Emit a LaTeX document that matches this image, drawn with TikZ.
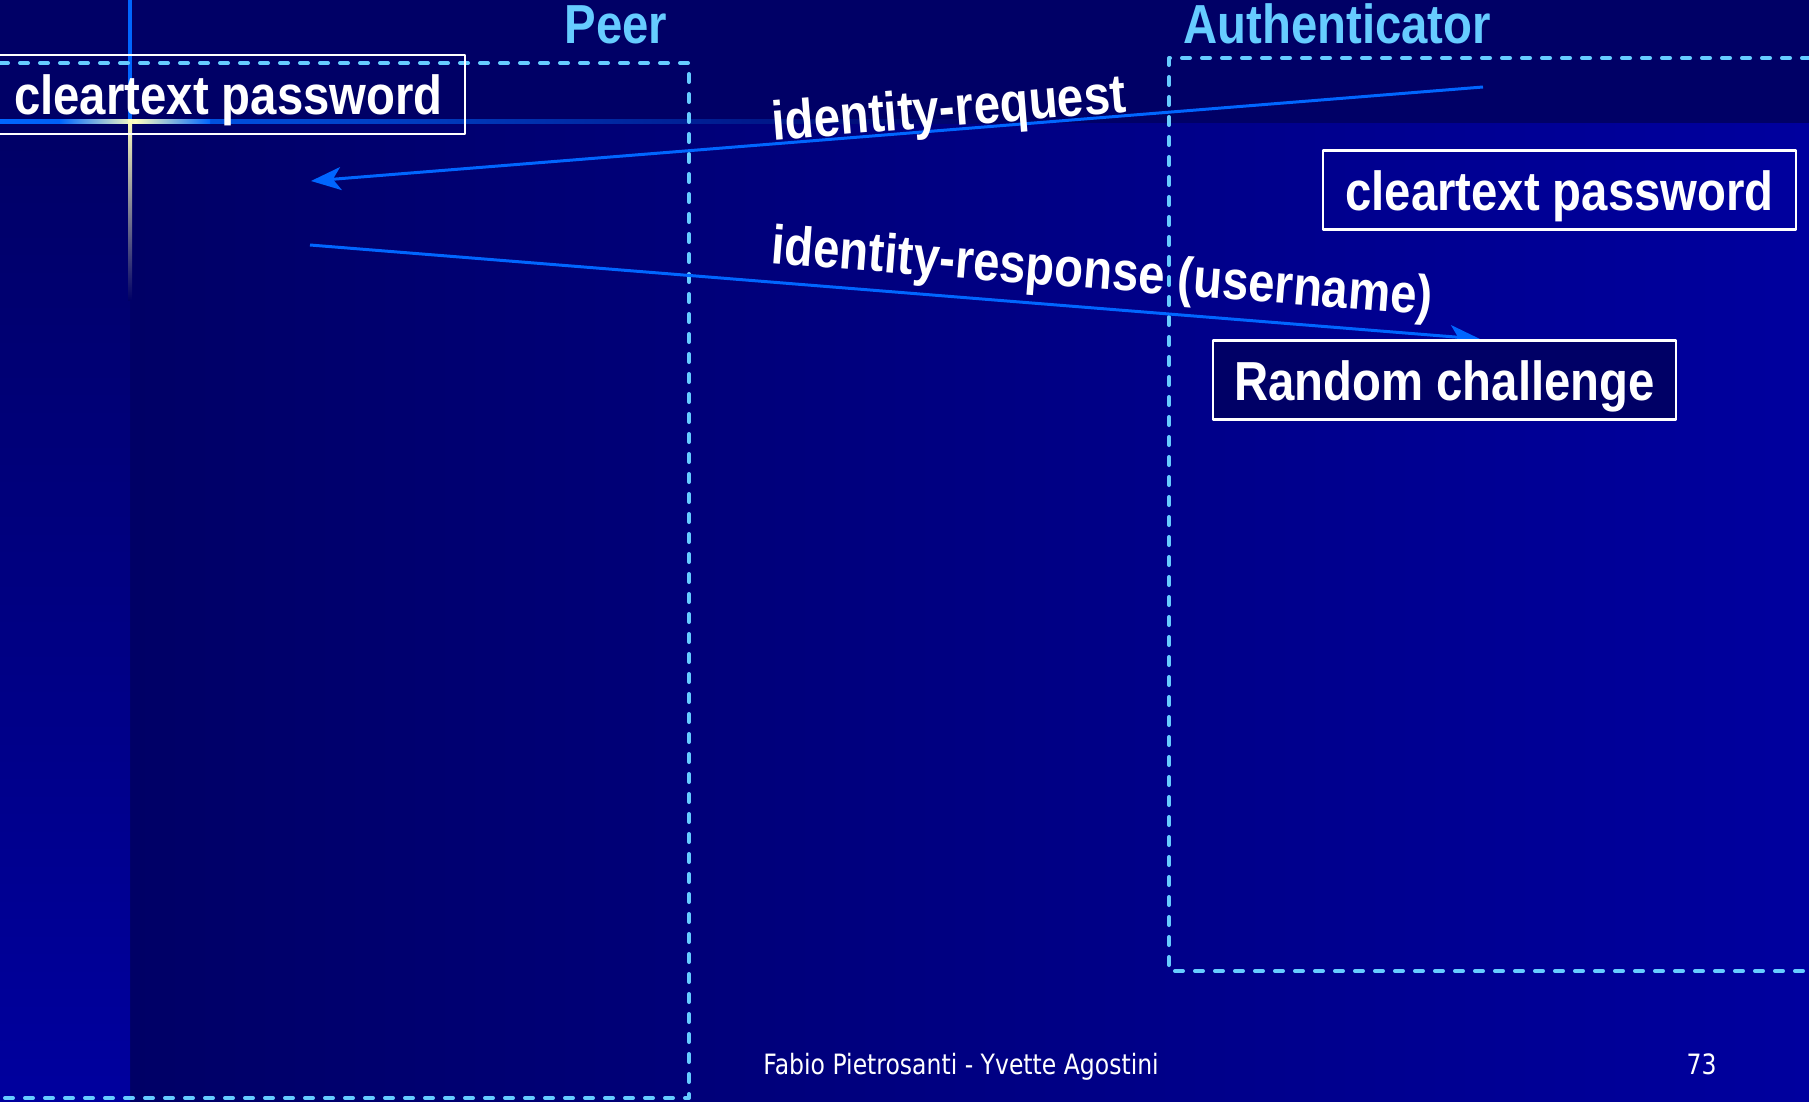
\documentclass[tikz,border=0pt]{standalone}
\usepackage{fontspec}
\setmainfont[FakeStretch=0.86]{Liberation Sans}
\newfontfamily\footfont[FakeStretch=0.84]{DejaVu Sans}
\usetikzlibrary{arrows.meta}
\definecolor{slidenavy}{RGB}{0,0,102}
\definecolor{slideblue}{RGB}{0,0,158}
\definecolor{msgblue}{RGB}{0,102,255}
\definecolor{roleblue}{RGB}{102,204,255}
\begin{document}
\begin{tikzpicture}[x=0.5pt,y=-0.5pt,line join=round,font=\fontsize{27.5}{33}\selectfont\bfseries,
  role/.style={text=roleblue,anchor=base,inner sep=0pt},
  sidebox/.style={draw=roleblue,line width=2pt,dash pattern=on 4pt off 6pt,line cap=round},
  pwbox/.style={draw=white,line width=1.4pt,text=white,minimum width=236.5pt,minimum height=39.5pt,inner sep=0pt,text height=20.5pt,text depth=0.5pt},
  msg/.style={draw=msgblue,line width=1.5pt,-{Stealth[length=15pt,width=11.5pt,inset=4pt]}},
  msglabel/.style={text=white},
  foot/.style={text=white,inner sep=0pt,font=\footfont\fontsize{14}{17}\selectfont}]
  \clip (0,0) rectangle (1809,1102);
  \fill[slidenavy] (0,0) rectangle (1809,1102);
  \shade[left color=slidenavy,right color=slideblue] (130,124) rectangle (1809,1102);
  \shade[top color=slidenavy,bottom color=slideblue] (0,124) rectangle (130,1102);
  \shade[left color=msgblue,right color=slidenavy] (0,120) rectangle (1000,124);
  \shade[left color=msgblue,right color=msgblue,middle color=yellow!25!white] (60,120) rectangle (210,124);
  \fill[msgblue] (128,0) rectangle (132,120);
  \shade[top color=yellow!25!white,middle color=msgblue,bottom color=slidenavy] (128,120) rectangle (132,300);

  \draw[sidebox] (-20,63) -- (689,63) -- (689,1098) -- (-20,1098);
  \draw[sidebox] (1830,58) -- (1169,58) -- (1169,971) -- (1830,971);

  \node[role] (peer) at (616,44) {Peer};
  \node[role,anchor=base west] (auth) at (1183,44) {Authenticator};

  \node[pwbox] (peerpw) at (228.5,94.5) {cleartext password};
  \node[pwbox] (authpw) at (1559.5,190) {cleartext password};

  \coordinate (reqstart) at (1483,87);
  \coordinate (reqend) at (311,181);
  \coordinate (respstart) at (310,245);
  \coordinate (respend) at (1480,339);
  \draw[msg] (reqstart) -- (reqend);
  \draw[msg] (respstart) -- (respend);
  \node[msglabel,rotate=4.6] (reqlabel) at (949,112) {identity-request};
  \node[msglabel,rotate=-4.5] (resplabel) at (1102,275) {identity-response (username)};

  \node[pwbox,fill=slidenavy,minimum width=231.5pt] (chal) at (1444.5,380) {Random challenge};

  \node[foot,anchor=base west] (authors) at (763,1074) {Fabio Pietrosanti - Yvette Agostini};
  \node[foot,anchor=base east] (page) at (1717,1074) {73};
\end{tikzpicture}
\end{document}
